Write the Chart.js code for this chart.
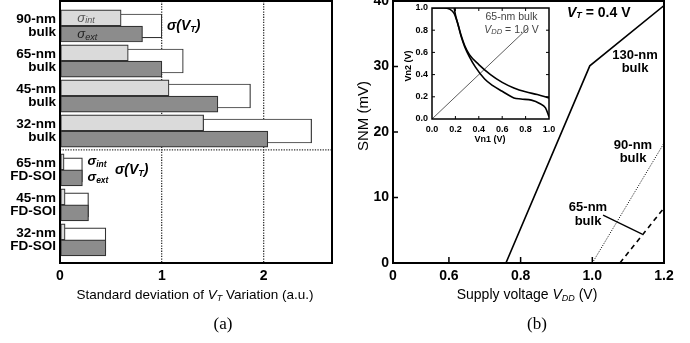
<!DOCTYPE html>
<html><head><meta charset="utf-8">
<script src="https://cdn.jsdelivr.net/npm/chart.js@4/dist/chart.umd.min.js"></script>
<style>
html,body{margin:0;padding:0;background:#fff;width:690px;height:343px;overflow:hidden;position:relative}
canvas{position:absolute;top:0}
#c1{left:0}
#c2{left:345px}
#c3{left:400px}
</style></head><body>
<canvas id="c1" width="345" height="343" style="width:345px;height:343px"></canvas>
<canvas id="c2" width="345" height="343" style="width:345px;height:343px"></canvas>
<canvas id="c3" width="160" height="150" style="width:160px;height:150px"></canvas>
<script>
// ---------- Panel (a) data ----------
const techLabels = [["90-nm","bulk"],["65-nm","bulk"],["45-nm","bulk"],["32-nm","bulk"],["65-nm","FD-SOI"],["45-nm","FD-SOI"],["32-nm","FD-SOI"]];
const sigmaInt = [0.60, 0.67, 1.07, 1.41, 0.04, 0.05, 0.05];
const sigmaExt = [0.81, 1.00, 1.55, 2.04, 0.22, 0.28, 0.45];
const sigmaVT  = [1.00, 1.21, 1.87, 2.47, 0.22, 0.28, 0.45];
const xTicksA = [0, 1, 2];

// ---------- Panel (b) data ----------
const vddTickValues = [0.444, 0.6, 0.8, 1.0, 1.2];
const vddTickLabels = ["0", "0.6", "0.8", "1.0", "1.2"];
const snm130X = [0.759, 0.993, 1.2];
const snm130Y = [0, 30.1, 39.3];
const snm90X = [1.0, 1.2];
const snm90Y = [0, 18.3];
const snm65X = [1.077, 1.2];
const snm65Y = [0, 8.4];
const leaderX = [1.030, 1.139];
const leaderY = [7.3, 4.4];

// ---------- Inset data ----------
const vtc1X = [0, 0.10, 0.15, 0.19, 0.22, 0.25, 0.28, 0.32, 0.40, 0.50, 0.60, 0.70, 0.80, 0.90, 1.00];
const vtc1Y = [1.00, 1.00, 0.99, 0.95, 0.86, 0.75, 0.66, 0.58, 0.49, 0.40, 0.33, 0.28, 0.245, 0.22, 0.19];
const vtc2X = [0.19, 0.20, 0.22, 0.25, 0.28, 0.32, 0.37, 0.45, 0.52, 0.60, 0.70, 0.76, 0.85, 0.92, 0.97, 1.00];
const vtc2Y = [1.00, 0.94, 0.86, 0.74, 0.65, 0.56, 0.47, 0.36, 0.30, 0.25, 0.19, 0.18, 0.17, 0.14, 0.10, 0.02];
const diagX = [0, 0.82];
const diagY = [0, 0.82];

const F = "'Liberation Sans', Arial, sans-serif";
const SERIF = "'Liberation Serif', 'Times New Roman', serif";
Chart.defaults.font.family = F;
Chart.defaults.color = '#000';
Chart.defaults.animation = false;
Chart.defaults.plugins.legend.display = false;
Chart.defaults.plugins.tooltip.enabled = false;

const zip = (xs, ys) => xs.map((x, i) => ({x, y: ys[i]}));

function rich(ctx, x, y, parts, align) {
  let w = 0;
  parts.forEach(p => { ctx.font = p[1]; w += ctx.measureText(p[0]).width; });
  let cx = align === 'center' ? x - w / 2 : (align === 'right' ? x - w : x);
  ctx.textBaseline = 'middle'; ctx.textAlign = 'left';
  parts.forEach(p => {
    ctx.font = p[1]; ctx.fillStyle = p[3] || '#000';
    ctx.fillText(p[0], cx, y + (p[2] || 0));
    cx += ctx.measureText(p[0]).width;
  });
}

// ---------- Panel (a) ----------
const GAP = 0.11;
const posA = techLabels.map((_, i) => i + (i >= 4 ? GAP : 0));
const SEP = 3.54;
const OFF = 0.23;

const leftDeco = {
  id: 'leftDeco',
  afterDraw(chart) {
    const {ctx, chartArea: a, scales: {x, y}} = chart;
    ctx.save();
    const ys = y.getPixelForValue(SEP);
    ctx.strokeStyle = '#333'; ctx.lineWidth = 1.3; ctx.setLineDash([1.3, 1.3]);
    ctx.beginPath(); ctx.moveTo(a.left, ys); ctx.lineTo(a.right, ys); ctx.stroke();
    ctx.setLineDash([]);
    ctx.strokeStyle = '#000'; ctx.lineWidth = 2;
    ctx.strokeRect(a.left, a.top, a.right - a.left, a.bottom - a.top);
    // annotations
    const sx = x.getPixelForValue(0.17);
    rich(ctx, sx, y.getPixelForValue(posA[0] - OFF), [['σ', 'italic 13px ' + F, 0, '#555'], ['int', 'italic 9px ' + F, 3, '#555']]);
    rich(ctx, sx, y.getPixelForValue(posA[0] + OFF), [['σ', 'italic 13px ' + F, 0, '#222'], ['ext', 'italic 9px ' + F, 3, '#222']]);
    rich(ctx, x.getPixelForValue(1.05), y.getPixelForValue(posA[0]), [['σ(V', 'italic bold 14px ' + F], ['T', 'italic bold 9px ' + F, 4], [')', 'italic bold 14px ' + F]]);
    const fx = x.getPixelForValue(0.27);
    rich(ctx, fx, y.getPixelForValue(posA[4] - OFF), [['σ', 'italic bold 13px ' + F], ['int', 'italic bold 8.5px ' + F, 3]]);
    rich(ctx, fx, y.getPixelForValue(posA[4] + OFF), [['σ', 'italic bold 13px ' + F], ['ext', 'italic bold 8.5px ' + F, 3]]);
    rich(ctx, x.getPixelForValue(0.54), y.getPixelForValue(posA[4]), [['σ(V', 'italic bold 14px ' + F], ['T', 'italic bold 9px ' + F, 4], [')', 'italic bold 14px ' + F]]);
    // axis title and caption
    rich(ctx, 195, 295, [['Standard deviation of ', '13.5px ' + F], ['V', 'italic 13.5px ' + F], ['T', 'italic 9px ' + F, 3], [' Variation (a.u.)', '13.5px ' + F]], 'center');
    rich(ctx, 223, 325, [['(a)', '17px ' + SERIF]], 'center');
    ctx.restore();
  }
};

new Chart(document.getElementById('c1'), {
  type: 'bar',
  data: { datasets: [
    { label: 'σint', data: sigmaInt.map((v, i) => ({x: v, y: posA[i] - OFF})), backgroundColor: '#dadada', borderColor: '#333', borderWidth: 1.2, borderSkipped: false, barThickness: 16, grouped: false, order: 0 },
    { label: 'σext', data: sigmaExt.map((v, i) => ({x: v, y: posA[i] + OFF})), backgroundColor: '#8c8c8c', borderColor: '#333', borderWidth: 1.2, borderSkipped: false, barThickness: 16, grouped: false, order: 0 },
    { label: 'σ(VT)', data: sigmaVT.map((v, i) => ({x: v, y: posA[i]})), backgroundColor: '#ffffff', borderColor: '#333', borderWidth: 1.2, borderSkipped: false, barThickness: 24, grouped: false, order: 1 }
  ]},
  options: {
    responsive: false, indexAxis: 'y',
    layout: { padding: { left: 0, right: 13, top: 1, bottom: 0 } },
    scales: {
      x: {
        type: 'linear', min: 0, max: 2.67,
        afterBuildTicks: s => { s.ticks = xTicksA.map(v => ({value: v})); },
        afterFit: s => { s.height = 80; s.paddingLeft = 0; s.paddingRight = 0; },
        ticks: { font: { size: 14, weight: 'bold' }, padding: 5, callback: v => String(v) },
        grid: { color: c => (c.tick && c.tick.value === 0) ? 'rgba(0,0,0,0)' : '#333', lineWidth: 1.3, drawTicks: false },
        border: { display: false, dash: [1.3, 1.3] }
      },
      y: {
        type: 'linear', reverse: true, min: -0.714, max: 6.771, offset: false,
        afterBuildTicks: s => { s.ticks = posA.map(v => ({value: v})); },
        afterFit: s => { s.width = 60; s.paddingTop = 0; s.paddingBottom = 0; },
        ticks: { autoSkip: false, font: { size: 13.5, weight: 'bold', lineHeight: 0.97 }, padding: 4, callback: (v, i) => techLabels[i] },
        grid: { display: false, drawTicks: false, offset: false },
        border: { display: false }
      }
    }
  },
  plugins: [leftDeco]
});

// ---------- Panel (b) ----------
const rightDeco = {
  id: 'rightDeco',
  afterDraw(chart) {
    const {ctx, chartArea: a, scales: {x, y}} = chart;
    ctx.save();
    ctx.strokeStyle = '#000'; ctx.lineWidth = 1.5;
    [0.6, 0.8, 1.0].forEach(v => { const px = x.getPixelForValue(v); ctx.beginPath(); ctx.moveTo(px, a.bottom); ctx.lineTo(px, a.bottom - 6); ctx.stroke(); });
    [10, 20, 30].forEach(v => { const py = y.getPixelForValue(v); ctx.beginPath(); ctx.moveTo(a.left, py); ctx.lineTo(a.left + 5, py); ctx.stroke(); });
    ctx.lineWidth = 2;
    ctx.strokeRect(a.left, a.top, a.right - a.left, a.bottom - a.top);
    rich(ctx, 222, 13, [['V', 'italic bold 14px ' + F], ['T', 'italic bold 9px ' + F, 3], [' = 0.4 V', 'bold 14px ' + F]]);
    const lab = 'bold 13px ' + F;
    rich(ctx, 290, 55, [['130-nm', lab]], 'center');
    rich(ctx, 290, 68, [['bulk', lab]], 'center');
    rich(ctx, 288, 145, [['90-nm', lab]], 'center');
    rich(ctx, 288, 158, [['bulk', lab]], 'center');
    rich(ctx, 243, 207, [['65-nm', lab]], 'center');
    rich(ctx, 243, 221, [['bulk', lab]], 'center');
    rich(ctx, 182, 295, [['Supply voltage ', '14px ' + F], ['V', 'italic 14px ' + F], ['DD', 'italic 9px ' + F, 3], [' (V)', '14px ' + F]], 'center');
    rich(ctx, 192, 325, [['(b)', '17px ' + SERIF]], 'center');
    ctx.translate(19, 116); ctx.rotate(-Math.PI / 2);
    rich(ctx, 0, 0, [['SNM (mV)', '15px ' + F]], 'center');
    ctx.restore();
  }
};

new Chart(document.getElementById('c2'), {
  type: 'scatter',
  data: { datasets: [
    { data: zip(snm130X, snm130Y), showLine: true, borderColor: '#000', borderWidth: 1.6, pointRadius: 0 },
    { data: zip(snm90X, snm90Y), showLine: true, borderColor: '#000', borderWidth: 1, borderDash: [1, 1.5], pointRadius: 0 },
    { data: zip(snm65X, snm65Y), showLine: true, borderColor: '#000', borderWidth: 1.6, borderDash: [5, 4], pointRadius: 0 },
    { data: zip(leaderX, leaderY), showLine: true, borderColor: '#000', borderWidth: 1.3, pointRadius: 0 }
  ]},
  options: {
    responsive: false,
    layout: { padding: { left: 0, right: 26, top: 1, bottom: 0 } },
    scales: {
      x: {
        type: 'linear', min: vddTickValues[0], max: 1.2,
        afterBuildTicks: s => { s.ticks = vddTickValues.map(v => ({value: v})); },
        afterFit: s => { s.height = 80; s.paddingLeft = 0; s.paddingRight = 0; },
        ticks: { font: { size: 14, weight: 'bold' }, padding: 5, autoSkip: false, maxRotation: 0, callback: (v, i) => vddTickLabels[i] },
        grid: { display: false, drawTicks: false },
        border: { display: false }
      },
      y: {
        type: 'linear', min: 0, max: 40,
        afterFit: s => { s.width = 48; s.paddingTop = 0; s.paddingBottom = 0; },
        ticks: { stepSize: 10, font: { size: 14, weight: 'bold' }, padding: 4 },
        grid: { display: false, drawTicks: false },
        border: { display: false }
      }
    }
  },
  plugins: [rightDeco]
});

// ---------- Inset ----------
const insetDeco = {
  id: 'insetDeco',
  afterDraw(chart) {
    const {ctx, chartArea: a, scales: {x, y}} = chart;
    ctx.save();
    ctx.strokeStyle = '#000'; ctx.lineWidth = 1;
    [0.2, 0.4, 0.6, 0.8].forEach(v => {
      const px = x.getPixelForValue(v), py = y.getPixelForValue(v);
      ctx.beginPath();
      ctx.moveTo(px, a.bottom); ctx.lineTo(px, a.bottom - 3);
      ctx.moveTo(px, a.top); ctx.lineTo(px, a.top + 3);
      ctx.moveTo(a.left, py); ctx.lineTo(a.left + 3, py);
      ctx.moveTo(a.right, py); ctx.lineTo(a.right - 3, py);
      ctx.stroke();
    });
    ctx.lineWidth = 1.5;
    ctx.strokeRect(a.left, a.top, a.right - a.left, a.bottom - a.top);
    rich(ctx, 111.5, 17, [['65-nm bulk', '10.5px ' + F, 0, '#444']], 'center');
    rich(ctx, 111.5, 30, [['V', 'italic 10.5px ' + F, 0, '#444'], ['DD', 'italic 7.5px ' + F, 1.5, '#444'], [' = 1.0 V', '10.5px ' + F, 0, '#444']], 'center');
    rich(ctx, 90, 140, [['Vn1 (V)', 'bold 9px ' + F]], 'center');
    ctx.translate(8.5, 66); ctx.rotate(-Math.PI / 2);
    rich(ctx, 0, 0, [['Vn2 (V)', 'bold 9px ' + F]], 'center');
    ctx.restore();
  }
};

new Chart(document.getElementById('c3'), {
  type: 'scatter',
  data: { datasets: [
    { data: zip(vtc1X, vtc1Y), showLine: true, borderColor: '#000', borderWidth: 1.6, pointRadius: 0, cubicInterpolationMode: 'monotone' },
    { data: zip(vtc2X, vtc2Y), showLine: true, borderColor: '#000', borderWidth: 1.6, pointRadius: 0, cubicInterpolationMode: 'monotone' },
    { data: zip(diagX, diagY), showLine: true, borderColor: '#333', borderWidth: 0.8, pointRadius: 0 }
  ]},
  options: {
    responsive: false,
    layout: { padding: { left: 0, right: 11, top: 8, bottom: 0 } },
    scales: {
      x: {
        type: 'linear', min: 0, max: 1,
        afterFit: s => { s.height = 31; s.paddingLeft = 0; s.paddingRight = 0; },
        ticks: { stepSize: 0.2, font: { size: 9, weight: 'bold' }, padding: 5, maxRotation: 0, callback: v => v.toFixed(1) },
        grid: { display: false, drawTicks: false },
        border: { display: false }
      },
      y: {
        type: 'linear', min: 0, max: 1,
        afterFit: s => { s.width = 32; s.paddingTop = 0; s.paddingBottom = 0; },
        ticks: { stepSize: 0.2, font: { size: 9, weight: 'bold' }, padding: 4, callback: v => v.toFixed(1) },
        grid: { display: false, drawTicks: false },
        border: { display: false }
      }
    }
  },
  plugins: [insetDeco]
});
</script>
</body></html>
